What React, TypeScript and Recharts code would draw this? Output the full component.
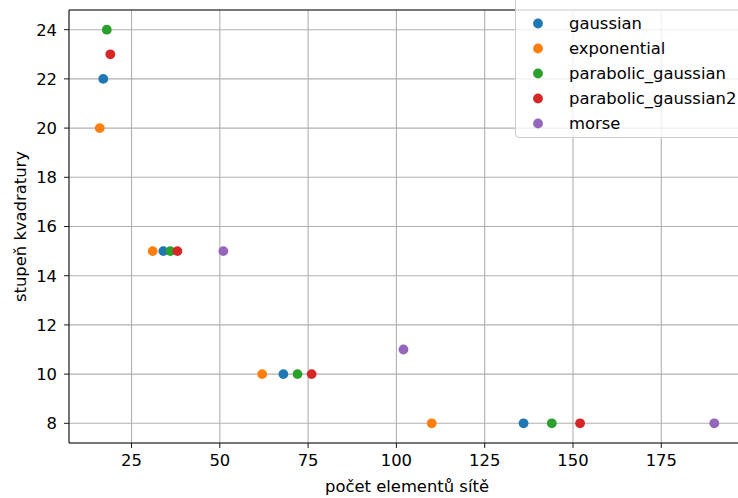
import React from "react";
import {
  ScatterChart,
  Scatter,
  XAxis,
  YAxis,
  CartesianGrid,
  Legend,
  ReferenceLine,
} from "recharts";

// počet elementů sítě (x) a stupeň kvadratury (y) pro každou metodu
const GAUSSIAN_X = [17, 34, 68, 136];
const GAUSSIAN_Y = [22, 15, 10, 8];
const EXPONENTIAL_X = [16, 31, 62, 110];
const EXPONENTIAL_Y = [20, 15, 10, 8];
const PARABOLIC_X = [18, 36, 72, 144];
const PARABOLIC_Y = [24, 15, 10, 8];
const PARABOLIC2_X = [19, 38, 76, 152];
const PARABOLIC2_Y = [23, 15, 10, 8];
const MORSE_X = [51, 102, 190];
const MORSE_Y = [15, 11, 8];

const X_TICKS = [25, 50, 75, 100, 125, 150, 175];
const Y_TICKS = [8, 10, 12, 14, 16, 18, 20, 22, 24];
const X_DOMAIN = [7.3, 198.7];
const Y_DOMAIN = [7.2, 24.8];

const FONT = "'DejaVu Sans', sans-serif";
const FS = 16.4;

const zip = (xs: number[], ys: number[]) => xs.map((x, i) => ({ x, y: ys[i] }));

const SERIES = [
  { name: "gaussian", color: "#1f77b4", data: zip(GAUSSIAN_X, GAUSSIAN_Y) },
  { name: "exponential", color: "#ff7f0e", data: zip(EXPONENTIAL_X, EXPONENTIAL_Y) },
  { name: "parabolic_gaussian", color: "#2ca02c", data: zip(PARABOLIC_X, PARABOLIC_Y) },
  { name: "parabolic_gaussian2", color: "#d62728", data: zip(PARABOLIC2_X, PARABOLIC2_Y) },
  { name: "morse", color: "#9467bd", data: zip(MORSE_X, MORSE_Y) },
];

const Dot = (color: string) => (props: any) => (
  <circle cx={props.cx} cy={props.cy} r={4.9} fill={color} />
);

const LegendBox = () => (
  <div
    style={{
      border: "1px solid #cccccc",
      borderRadius: 4,
      background: "rgba(255,255,255,0.8)",
      paddingTop: 16,
      height: 144,
      boxSizing: "border-box",
      fontFamily: FONT,
      fontSize: FS,
      color: "#000",
    }}
  >
    {SERIES.map((s) => (
      <div key={s.name} style={{ height: 25, display: "flex", alignItems: "center" }}>
        <svg width={53} height={25}>
          <circle cx={22} cy={12.5} r={4.9} fill={s.color} />
        </svg>
        <span>{s.name}</span>
      </div>
    ))}
  </div>
);

export default function App() {
  const tick = { fill: "#000", fontSize: FS, fontFamily: FONT };
  return (
    <div
      style={{
        position: "fixed",
        left: 0,
        top: 0,
        width: 738,
        height: 498,
        overflow: "hidden",
        background: "#fff",
      }}
    >
      <ScatterChart
        width={770}
        height={498}
        margin={{ top: 10, right: 25, bottom: 25, left: 0 }}
      >
        <CartesianGrid stroke="#b0b0b0" strokeWidth={1.1} />
        <XAxis
          type="number"
          dataKey="x"
          domain={X_DOMAIN}
          ticks={X_TICKS}
          allowDataOverflow
          height={30}
          tick={tick}
          tickSize={5}
          tickMargin={6}
          axisLine={{ stroke: "#000", strokeWidth: 0.9 }}
          tickLine={{ stroke: "#000", strokeWidth: 0.9 }}
          label={{
            value: "počet elementů sítě",
            position: "bottom",
            offset: 7,
            style: { fill: "#000", fontSize: FS, fontFamily: FONT },
          }}
        />
        <YAxis
          type="number"
          dataKey="y"
          domain={Y_DOMAIN}
          ticks={Y_TICKS}
          allowDataOverflow
          width={69}
          tick={tick}
          tickSize={5}
          tickMargin={7}
          axisLine={{ stroke: "#000", strokeWidth: 0.9 }}
          tickLine={{ stroke: "#000", strokeWidth: 0.9 }}
          label={{
            value: "stupeň kvadratury",
            angle: -90,
            position: "insideLeft",
            offset: 20,
            style: { fill: "#000", fontSize: FS, fontFamily: FONT, textAnchor: "middle" },
          }}
        />
        <ReferenceLine y={Y_DOMAIN[1]} stroke="#000" strokeWidth={0.9} />
        {SERIES.map((s) => (
          <Scatter
            key={s.name}
            name={s.name}
            data={s.data}
            fill={s.color}
            shape={Dot(s.color)}
            isAnimationActive={false}
          />
        ))}
        <Legend
          layout="vertical"
          align="center"
          verticalAlign="middle"
          content={() => <LegendBox />}
          wrapperStyle={{ position: "absolute", left: 515, top: -6, width: 260, height: 145 }}
        />
      </ScatterChart>
    </div>
  );
}
